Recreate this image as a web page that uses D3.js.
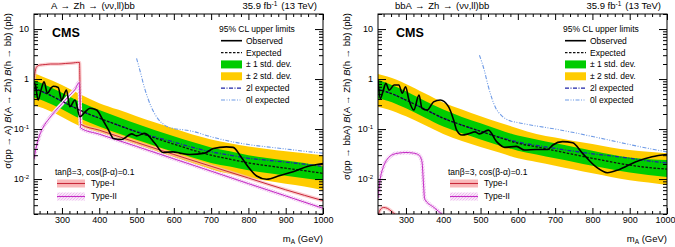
<!DOCTYPE html>
<html><head><meta charset="utf-8">
<script src="https://cdn.jsdelivr.net/npm/d3@7/dist/d3.min.js"></script>
<style>
body{margin:0;background:#fff}
svg{display:block;font-family:"Liberation Sans",Arial,Helvetica,sans-serif}
</style></head><body>
<svg id="chart" width="675" height="247"></svg>
<script>
const massDomain=[225,1000];
const limitDomain=[0.002,20];
const xMajor=[300,400,500,600,700,800,900,1000];
const yMajor=[0.01,0.1,1,10];
const yMajorLabels=[["10","-2"],["10","-1"],["1",""],["10",""]];

// expected limits and bands on a common mass grid
const bandMass=[225,250,300,350,400,450,500,550,600,650,700,750,800,850,900,950,1000];
const leftExp   =[0.65,0.55,0.36,0.235,0.165,0.12,0.088,0.066,0.05,0.038,0.03,0.025,0.021,0.0185,0.0165,0.0147,0.013];
const leftExp2l =[0.65,0.55,0.36,0.235,0.165,0.12,0.089,0.069,0.055,0.043,0.035,0.03,0.026,0.0238,0.0218,0.0198,0.018];
const leftSig1Lo=[0.43,0.37,0.25,0.16,0.112,0.082,0.061,0.046,0.035,0.027,0.021,0.0178,0.015,0.0132,0.0117,0.0104,0.0094];
const leftSig1Hi=[0.95,0.80,0.53,0.345,0.24,0.175,0.128,0.095,0.072,0.055,0.043,0.036,0.03,0.0265,0.0235,0.021,0.0178];
const leftSig2Lo=[0.30,0.26,0.175,0.112,0.078,0.057,0.042,0.032,0.024,0.019,0.0152,0.0128,0.0106,0.0092,0.0081,0.0071,0.006];
const leftSig2Hi=[1.30,1.10,0.76,0.49,0.33,0.245,0.18,0.135,0.102,0.078,0.062,0.052,0.045,0.04,0.036,0.033,0.030];

const rightExp   =[0.62,0.55,0.38,0.25,0.165,0.12,0.09,0.068,0.052,0.044,0.037,0.031,0.026,0.022,0.019,0.017,0.0158];
const rightExp2l =[0.62,0.55,0.38,0.25,0.165,0.12,0.09,0.069,0.055,0.047,0.041,0.036,0.032,0.029,0.026,0.023,0.021];
const rightSig1Lo=[0.41,0.37,0.26,0.17,0.112,0.082,0.062,0.047,0.037,0.031,0.026,0.022,0.0185,0.0157,0.0135,0.012,0.011];
const rightSig1Hi=[0.97,0.82,0.57,0.37,0.245,0.175,0.13,0.097,0.074,0.062,0.052,0.044,0.037,0.031,0.027,0.025,0.024];
const rightSig2Lo=[0.28,0.25,0.18,0.12,0.08,0.058,0.044,0.034,0.026,0.022,0.0185,0.0155,0.013,0.011,0.0095,0.0085,0.0076];
const rightSig2Hi=[1.26,1.12,0.8,0.52,0.34,0.245,0.18,0.135,0.103,0.08,0.068,0.058,0.05,0.043,0.038,0.035,0.033];

// [mass, limit] pairs
const leftObserved=[[225,0.85],[229,0.75],[236,0.38],[245,0.65],[252,0.88],[261,0.52],[270,0.65],[277,0.72],[290,0.68],[299,0.38],[312,0.6],[321,0.28],[335,0.38],[348,0.176],[362,0.22],[375,0.26],[393,0.24],[410,0.15],[425,0.095],[438,0.065],[460,0.062],[487,0.08],[500,0.073],[522,0.082],[549,0.052],[571,0.034],[598,0.035],[616,0.033],[643,0.031],[683,0.033],[706,0.041],[741,0.044],[759,0.043],[780,0.028],[799,0.0177],[822,0.0115],[849,0.0099],[885,0.0118],[920,0.014],[960,0.018],[1000,0.0205]];
const rightObserved=[[225,0.95],[231,0.41],[238,0.55],[246,0.82],[255,0.6],[268,0.76],[281,0.76],[290,0.52],[299,0.7],[308,0.38],[321,0.24],[335,0.48],[343,0.26],[357,0.24],[374,0.35],[392,0.38],[414,0.28],[428,0.15],[436,0.095],[450,0.076],[467,0.08],[485,0.088],[497,0.08],[521,0.095],[543,0.056],[565,0.043],[596,0.045],[618,0.038],[649,0.039],[680,0.039],[694,0.048],[720,0.056],[747,0.053],[773,0.033],[809,0.0177],[840,0.0134],[871,0.0154],[915,0.022],[960,0.028],[1000,0.031]];
const left0l=[[500,2.6],[510,1.4],[520,0.72],[530,0.42],[540,0.27],[555,0.17],[575,0.12],[600,0.102],[625,0.097],[650,0.09],[700,0.07],[750,0.057],[800,0.049],[850,0.044],[900,0.04],[950,0.036],[1000,0.033]];
const right0l=[[497,3.0],[510,1.5],[520,0.75],[530,0.42],[540,0.27],[555,0.19],[575,0.15],[600,0.135],[650,0.115],[700,0.1],[750,0.085],[800,0.071],[850,0.059],[900,0.049],[950,0.041],[1000,0.035]];
const leftTypeI=[[225,0.95],[228,1.4],[232,1.75],[240,1.9],[255,1.95],[270,2.0],[290,2.0],[310,2.05],[330,2.1],[342,2.15],[347,2.15],[348.5,0.6],[350,0.125],[400,0.095],[500,0.054],[600,0.031],[700,0.018],[800,0.0105],[900,0.0061],[1000,0.0037]];
const leftTypeII=[[225,0.025],[230,0.04],[240,0.075],[250,0.11],[265,0.16],[280,0.22],[300,0.32],[320,0.47],[335,0.62],[346,0.85],[348,0.4],[350,0.105],[400,0.079],[500,0.045],[600,0.0254],[700,0.0144],[800,0.0081],[900,0.0046],[1000,0.0026]];
const rightTypeI=[[225,0.0019],[232,0.0025],[240,0.0027],[250,0.0026],[260,0.0023],[270,0.002],[282,0.0017]];
const rightTypeII=[[225,0.0042],[230,0.009],[240,0.018],[250,0.025],[265,0.031],[280,0.033],[300,0.034],[320,0.033],[335,0.03],[343,0.022],[347,0.008],[350,0.004],[375,0.0027],[400,0.0019],[425,0.0014]];

const panels=[
  {id:"L",left:34,title:"A → Zh → (νν,ll)bb",prod:"A",labelX:11,
   exp:leftExp,exp2l:leftExp2l,s1lo:leftSig1Lo,s1hi:leftSig1Hi,s2lo:leftSig2Lo,s2hi:leftSig2Hi,
   obs:leftObserved,zero:left0l,t1:leftTypeI,t2:leftTypeII,typeX:55},
  {id:"R",left:378,title:"bbA → Zh → (νν,ll)bb",prod:"bbA",labelX:350,
   exp:rightExp,exp2l:rightExp2l,s1lo:rightSig1Lo,s1hi:rightSig1Hi,s2lo:rightSig2Lo,s2hi:rightSig2Hi,
   obs:rightObserved,zero:right0l,t1:rightTypeI,t2:rightTypeII,typeX:448}
];

const W=289,plotTop=14,plotBottom=214;
const C={yellow:"#ffcc00",green:"#00cc00",twoL:"#1f24a8",zeroL:"#6f9be6",t1:"#c8283a",t1band:"#f9b8ba",t2:"#c42cc4"};

const svg=d3.select("#chart");
const defs=svg.append("defs");
const pat=defs.append("pattern").attr("id","hatch").attr("width",3).attr("height",3)
  .attr("patternUnits","userSpaceOnUse");
pat.append("rect").attr("width",3).attr("height",3).attr("fill","#fae6fa");
pat.append("path").attr("d","M0,3L3,0M-1,1L1,-1M2,4L4,2").attr("stroke","#e3a3e4").attr("stroke-width",0.6);

function drawPanel(p){
  const x=d3.scaleLinear().domain(massDomain).range([p.left,p.left+W]);
  const y=d3.scaleLog().domain(limitDomain).range([plotBottom,plotTop]);
  const g=svg.append("g");
  defs.append("clipPath").attr("id","clip"+p.id).append("rect")
    .attr("x",p.left).attr("y",plotTop).attr("width",W).attr("height",plotBottom-plotTop);
  const plot=g.append("g").attr("clip-path",`url(#clip${p.id})`);

  const band=(lo,hi)=>d3.area().x((d,i)=>x(bandMass[i])).y0((d,i)=>y(lo[i])).y1((d,i)=>y(hi[i])).curve(d3.curveMonotoneX);
  const gridLine=d3.line().x((d,i)=>x(bandMass[i])).y(d=>y(d)).curve(d3.curveMonotoneX);
  const line=d3.line().x(d=>x(d[0])).y(d=>y(d[1])).curve(d3.curveMonotoneX);

  plot.append("path").datum(bandMass).attr("d",band(p.s2lo,p.s2hi)).attr("fill",C.yellow);
  plot.append("path").datum(bandMass).attr("d",band(p.s1lo,p.s1hi)).attr("fill",C.green);

  // theory uncertainty: light halo behind each model line
  plot.append("path").datum(p.t1).attr("d",line).attr("fill","none")
    .attr("stroke",C.t1band).attr("stroke-opacity",.7).attr("stroke-width",3.5);
  plot.append("path").datum(p.t2).attr("d",line).attr("fill","none")
    .attr("stroke","url(#hatch)").attr("stroke-width",4);

  plot.append("path").datum(p.zero).attr("d",line).attr("fill","none")
    .attr("stroke",C.zeroL).attr("stroke-width",1.1).attr("stroke-dasharray","4,1.5,1,1.5,1,1.5");
  plot.append("path").datum(p.exp2l).attr("d",gridLine).attr("fill","none")
    .attr("stroke",C.twoL).attr("stroke-width",1.3).attr("stroke-dasharray","4,1.5,1,1.5");
  plot.append("path").datum(p.exp).attr("d",gridLine).attr("fill","none")
    .attr("stroke","#111").attr("stroke-width",1.3).attr("stroke-dasharray","2.5,1.5");

  plot.append("path").datum(p.t1).attr("d",line).attr("fill","none").attr("stroke",C.t1).attr("stroke-width",1);
  plot.append("path").datum(p.t2).attr("d",line).attr("fill","none").attr("stroke",C.t2).attr("stroke-width",1);

  plot.append("path").datum(p.obs).attr("d",line).attr("fill","none")
    .attr("stroke","#000").attr("stroke-width",1.6);

  // frame and ticks on all four sides
  g.append("rect").attr("x",p.left).attr("y",plotTop).attr("width",W).attr("height",plotBottom-plotTop)
    .attr("fill","none").attr("stroke","#000").attr("stroke-width",1);
  const xMinor=d3.range(240,1001,20).filter(v=>!xMajor.includes(v));
  const yMinor=[];
  [-3,-2,-1,0,1].forEach(k=>d3.range(2,10).forEach(m=>{const v=m*Math.pow(10,k);if(v>=limitDomain[0]&&v<=limitDomain[1])yMinor.push(v);}));
  const clean=s=>{s.select(".domain").remove();s.selectAll("line").attr("stroke","#000");};
  g.append("g").attr("transform",`translate(0,${plotBottom})`)
    .call(d3.axisBottom(x).tickValues(xMajor).tickSize(-6).tickPadding(3).tickFormat(d3.format("d"))).call(clean)
    .call(s=>s.selectAll("text").attr("font-size",9).attr("fill","#000")
      .attr("dx",d=>d===1000&&p.id==="R"?-2:0))
    .attr("font-family",null);
  g.append("g").attr("transform",`translate(0,${plotBottom})`)
    .call(d3.axisBottom(x).tickValues(xMinor).tickSize(-3).tickFormat("")).call(clean);
  g.append("g").attr("transform",`translate(0,${plotTop})`)
    .call(d3.axisTop(x).tickValues(xMajor).tickSize(-6).tickFormat("")).call(clean);
  g.append("g").attr("transform",`translate(0,${plotTop})`)
    .call(d3.axisTop(x).tickValues(xMinor).tickSize(-3).tickFormat("")).call(clean);
  g.append("g").attr("transform",`translate(${p.left},0)`)
    .call(d3.axisLeft(y).tickValues(yMajor).tickSize(-8).tickFormat("")).call(clean);
  g.append("g").attr("transform",`translate(${p.left},0)`)
    .call(d3.axisLeft(y).tickValues(yMinor).tickSize(-4).tickFormat("")).call(clean);
  g.append("g").attr("transform",`translate(${p.left+W},0)`)
    .call(d3.axisRight(y).tickValues(yMajor).tickSize(-8).tickFormat("")).call(clean);
  g.append("g").attr("transform",`translate(${p.left+W},0)`)
    .call(d3.axisRight(y).tickValues(yMinor).tickSize(-4).tickFormat("")).call(clean);

  const yl=g.selectAll(".ylab").data(yMajor).join("text").attr("class","ylab")
    .attr("x",p.left-5).attr("y",d=>y(d)).attr("dy","0.35em").attr("text-anchor","end").attr("font-size",9);
  yl.each(function(d,i){
    const t=d3.select(this),lab=yMajorLabels[i];
    t.append("tspan").text(lab[0]);
    if(lab[1]) t.append("tspan").attr("font-size",6).attr("dy","-0.55em").text(lab[1]);
  });

  // titles
  g.append("text").attr("x",p.left+17).attr("y",9).attr("font-size",9.5).attr("word-spacing",1).text(p.title);
  const lumi=g.append("text").attr("x",p.left+W-6).attr("y",9).attr("font-size",9.5).attr("text-anchor","end");
  lumi.append("tspan").text("35.9 fb");
  lumi.append("tspan").attr("font-size",6.5).attr("dy",-3.5).text("-1");
  lumi.append("tspan").attr("dy",3.5).attr("dx",4).text("(13 TeV)");
  g.append("text").attr("x",p.left+18).attr("y",37).attr("font-size",12.5).attr("font-weight","bold").text("CMS");

  const xl=g.append("text").attr("x",p.left+W).attr("y",242).attr("font-size",9.5).attr("text-anchor","end");
  xl.append("tspan").text("m");
  xl.append("tspan").attr("font-size",6.5).attr("dy",2).text("A");
  xl.append("tspan").attr("dy",-2).text(" (GeV)");

  const ylab=g.append("text").attr("transform",`translate(${p.labelX},${plotTop-1}) rotate(-90)`)
    .attr("text-anchor","end").attr("font-size",9.5);
  ylab.append("tspan").text(`σ(pp → ${p.prod}) `);
  ylab.append("tspan").attr("font-style","italic").text("B");
  ylab.append("tspan").text("(A → Zh) ");
  ylab.append("tspan").attr("font-style","italic").text("B");
  ylab.append("tspan").text("(h → bb) (pb)");

  // main legend
  const lx=p.left+W-104, sx0=p.left+W-102, sx1=p.left+W-81, tx=p.left+W-77;
  g.append("text").attr("x",lx).attr("y",31.5).attr("font-size",8.5).text("95% CL upper limits");
  const entries=[
    {label:"Observed",kind:"line",stroke:"#000",w:1.6,dash:null},
    {label:"Expected",kind:"line",stroke:"#111",w:1.3,dash:"2.5,1.5"},
    {label:"± 1 std. dev.",kind:"box",fill:C.green},
    {label:"± 2 std. dev.",kind:"box",fill:C.yellow},
    {label:"2l expected",kind:"line",stroke:C.twoL,w:1.3,dash:"4,1.5,1,1.5"},
    {label:"0l expected",kind:"line",stroke:C.zeroL,w:1.1,dash:"4,1.5,1,1.5,1,1.5"}
  ];
  entries.forEach((e,i)=>{
    const cy=40.7+i*11.86;
    if(e.kind==="box") g.append("rect").attr("x",sx0).attr("y",cy-4).attr("width",sx1-sx0).attr("height",8).attr("fill",e.fill);
    else g.append("line").attr("x1",sx0).attr("x2",sx1).attr("y1",cy).attr("y2",cy)
      .attr("stroke",e.stroke).attr("stroke-width",e.w).attr("stroke-dasharray",e.dash);
    g.append("text").attr("x",tx).attr("y",cy).attr("dy","0.35em").attr("font-size",8.5).text(e.label);
  });

  // model legend
  g.append("text").attr("x",p.typeX).attr("y",175).attr("font-size",8.5).text("tanβ=3, cos(β-α)=0.1");
  [{label:"Type-I",fill:C.t1band,stroke:C.t1},{label:"Type-II",fill:"url(#hatch)",stroke:C.t2}].forEach((e,i)=>{
    const cy=183.5+i*13;
    g.append("rect").attr("x",p.typeX+2).attr("y",cy-4).attr("width",28).attr("height",8).attr("fill",e.fill);
    g.append("line").attr("x1",p.typeX+2).attr("x2",p.typeX+30).attr("y1",cy).attr("y2",cy)
      .attr("stroke",e.stroke).attr("stroke-width",1.1);
    g.append("text").attr("x",p.typeX+36).attr("y",cy).attr("dy","0.35em").attr("font-size",8.5).text(e.label);
  });
}

panels.forEach(drawPanel);
</script>
</body></html>
